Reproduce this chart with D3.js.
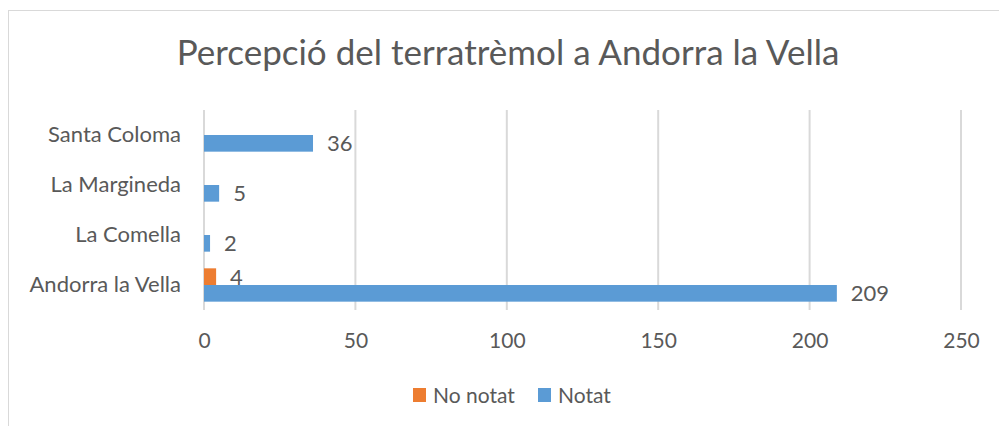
<!DOCTYPE html>
<html>
<head>
<meta charset="utf-8">
<script src="https://cdn.jsdelivr.net/npm/d3@7"></script>
<style>
    body { margin: 0; background: #fff; }
    text { font-family: Lato, "Open Sans", sans-serif; fill: #595959; }
</style>
</head>
<body>
<div id="chart"></div>
<script>
const title = "Percepció del terratrèmol a Andorra la Vella";
const categories = ["Santa Coloma", "La Margineda", "La Comella", "Andorra la Vella"];
const seriesNames = ["No notat", "Notat"];
const noNotat = [null, null, null, 4];
const notat = [36, 5, 2, 209];
const xTicks = [0, 50, 100, 150, 200, 250];
const colors = ["#ed7d31", "#5b9bd5"];

const width = 999, height = 426;
const margin = { top: 110, right: 38, bottom: 116, left: 204 };

const svg = d3.select("#chart").append("svg")
    .attr("width", width)
    .attr("height", height);

// chart frame
svg.append("rect")
    .attr("x", 8.5).attr("y", 10.5)
    .attr("width", 1000).attr("height", 440)
    .attr("fill", "none")
    .attr("stroke", "#d9d9d9");

svg.append("text")
    .attr("x", 508)
    .attr("y", 65)
    .attr("text-anchor", "middle")
    .style("font-size", "35px")
    .text(title);

const x = d3.scaleLinear()
    .domain([0, 250])
    .range([margin.left, width - margin.right]);

const y = d3.scaleBand()
    .domain(categories)
    .range([margin.top, height - margin.bottom]);

const ySub = d3.scaleBand()
    .domain(seriesNames)
    .range([0, y.bandwidth()])
    .paddingInner(0)
    .paddingOuter(0.5);

// gridlines
svg.append("g")
    .selectAll("line")
    .data(xTicks)
    .join("line")
    .attr("x1", d => x(d)).attr("x2", d => x(d))
    .attr("y1", margin.top).attr("y2", height - margin.bottom)
    .attr("stroke", "#d9d9d9")
    .attr("stroke-width", 2);

// x axis labels
const xAxis = d3.axisBottom(x).tickValues(xTicks).tickSize(0).tickPadding(23);
const gx = svg.append("g")
    .attr("transform", `translate(0,${height - margin.bottom})`)
    .call(xAxis);
gx.select(".domain").remove();
gx.selectAll("text").style("font-size", "21px").attr("fill", "#595959");

// category labels
const yAxis = d3.axisLeft(y).tickSize(0).tickPadding(23);
const gy = svg.append("g")
    .attr("transform", `translate(${margin.left},0)`)
    .call(yAxis);
gy.select(".domain").remove();
gy.selectAll("text").style("font-size", "22px").attr("fill", "#595959").attr("dy", "0.3em");

const rows = categories.map((c, i) => ({ cat: c, values: [noNotat[i], notat[i]] }));

const groups = svg.append("g")
    .selectAll("g")
    .data(rows)
    .join("g")
    .attr("transform", d => `translate(0,${y(d.cat)})`);

const bars = groups.selectAll("g.bar")
    .data(d => d.values.map((v, k) => ({ key: seriesNames[k], value: v, k: k })).filter(e => e.value != null))
    .join("g")
    .attr("class", "bar");

bars.append("rect")
    .attr("x", x(0))
    .attr("y", d => ySub(d.key))
    .attr("width", d => x(d.value) - x(0))
    .attr("height", ySub.bandwidth())
    .attr("fill", d => colors[d.k]);

bars.append("text")
    .attr("x", d => x(d.value) + 14)
    .attr("y", d => ySub(d.key) + ySub.bandwidth() / 2)
    .attr("dy", "0.36em")
    .style("font-size", "22px")
    .attr("fill", "#404040")
    .text(d => d.value);

// legend
const legendItems = [
    { name: seriesNames[0], color: colors[0], x: 413 },
    { name: seriesNames[1], color: colors[1], x: 538 }
];
const legend = svg.append("g").selectAll("g")
    .data(legendItems)
    .join("g")
    .attr("transform", d => `translate(${d.x},395)`);
legend.append("rect")
    .attr("x", 0).attr("y", -7)
    .attr("width", 13).attr("height", 14)
    .attr("fill", d => d.color);
legend.append("text")
    .attr("x", 20)
    .attr("dy", "0.36em")
    .style("font-size", "21px")
    .text(d => d.name);
</script>
</body>
</html>
